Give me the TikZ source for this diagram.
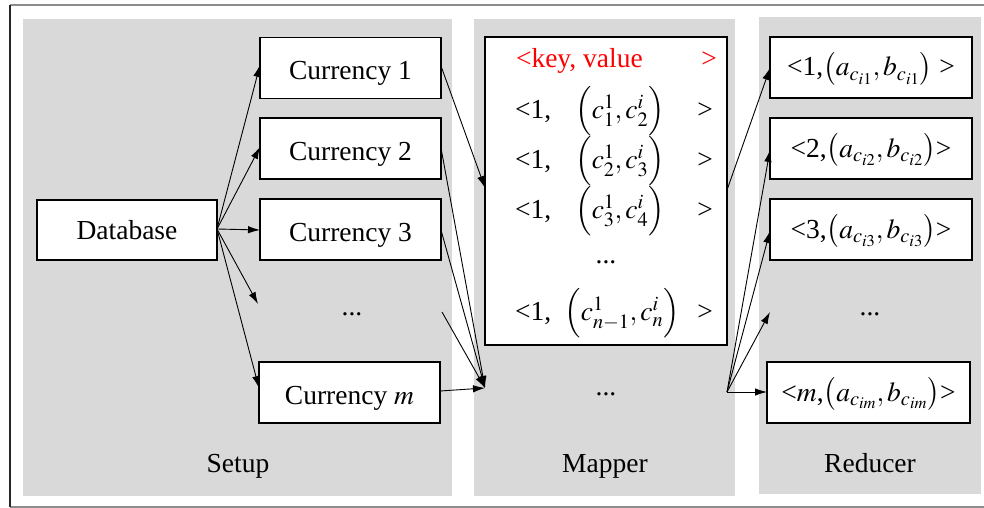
\documentclass[tikz,border=0pt]{standalone}
\usepackage{mathptmx}
\usepackage{fontspec}
\setmainfont{Liberation Serif}
\usetikzlibrary{arrows.meta}
\definecolor{panelgray}{RGB}{217,217,217}
\tikzset{
  panel/.style={fill=panelgray, draw=none},
  box/.style={draw=black, line width=1.1pt, fill=white, inner sep=0pt, outer sep=0pt},
  cbox/.style={box, minimum width=181pt, minimum height=61pt, text height=23pt, text depth=0pt},
  rbox/.style={box, minimum width=202pt, minimum height=61pt, text height=22pt, text depth=5pt},
  txt/.style={inner sep=0pt, outer sep=0pt},
  btxt/.style={inner sep=0pt, outer sep=0pt, anchor=base},
  arr/.style={line width=0.9pt, -{Latex[length=12pt,width=7.5pt]}},
  ln/.style={line width=0.9pt}
}
\begin{document}
\begin{tikzpicture}[x=1pt,y=-1pt,font=\fontsize{27.5}{33}\selectfont]
\useasboundingbox (0,0) rectangle (984,508);
% frame
\draw[gray!90, line width=1.4pt] (984,5) -- (10,5);
\draw[gray!90, line width=1.4pt] (10,507) -- (984,507);
\draw[black!85, line width=1.4pt] (10,5) -- (10,507);
% panels
\fill[panel] (23,19) rectangle (452,496);
\fill[panel] (474,19) rectangle (735,496);
\fill[panel] (759,17) rectangle (981,494);
% setup nodes
\node[box, minimum width=180pt, minimum height=60pt] (db) at (127,230) {Database};
\node[cbox] (c1) at (350.5,68) {Currency 1};
\node[cbox] (c2) at (350.5,148.5) {Currency 2};
\node[cbox] (c3) at (350.5,229.5) {Currency 3};
\node[btxt] (sdots) at (352,315) {...};
\node[cbox] (cm) at (349.5,392.5) {Currency $m$};
\node[btxt] at (238,472) {Setup};
% mapper
\node[box, minimum width=242pt, minimum height=308pt] (map) at (606,191) {};
\node[btxt, anchor=base west, text=red] (hk) at (516,68) {<key, value};
\node[btxt, text=red] (hg) at (709,68) {>};
\node[btxt, anchor=base west] (k1) at (515,118) {<1,};
\node[btxt] (v1) at (620,118) {$\Bigl(c_1^1,c_2^i\Bigr)$};
\node[btxt] (g1) at (705,118) {>};
\node[btxt, anchor=base west] (k2) at (515,168) {<1,};
\node[btxt] (v2) at (620,168) {$\Bigl(c_2^1,c_3^i\Bigr)$};
\node[btxt] (g2) at (705,168) {>};
\node[btxt, anchor=base west] (k3) at (515,218) {<1,};
\node[btxt] (v3) at (620,218) {$\Bigl(c_3^1,c_4^i\Bigr)$};
\node[btxt] (g3) at (705,218) {>};
\node[btxt] (mdots1) at (606,263) {...};
\node[btxt, anchor=base west] (k4) at (515,320) {<1,};
\node[btxt] (v4) at (622,320) {$\Bigl(c_{n-1}^1,c_n^i\Bigr)$};
\node[btxt] (g4) at (705,320) {>};
\node[btxt] (mdots2) at (606,395) {...};
\node[btxt] at (605,472) {Mapper};
% reducer
\node[rbox] (r1) at (871,67.5) {<1,$\bigl(a_{c_{i1}},b_{c_{i1}}\bigr)$ >};
\node[rbox] (r2) at (871,148.5) {<2,$\bigl(a_{c_{i2}},b_{c_{i2}}\bigr)$>};
\node[rbox] (r3) at (871,229.5) {<3,$\bigl(a_{c_{i3}},b_{c_{i3}}\bigr)$>};
\node[btxt] (rdots) at (870,315) {...};
\node[rbox, minimum width=203pt] (rm) at (868.5,392.5) {<$m$,$\bigl(a_{c_{im}},b_{c_{im}}\bigr)$>};
\node[btxt] at (870,472) {Reducer};
% connector coordinates
\coordinate (dbout) at (217,229);
\coordinate (sdIn) at (258,304);
\coordinate (sdOut) at (442,312);
\coordinate (mapIn) at (485,388);
\coordinate (mapOut1) at (727,190);
\coordinate (mapOut2) at (727,392);
\coordinate (rdIn) at (770,312);
% setup arrows
\draw[arr] (dbout) -- (c1.west |- 0,65);
\draw[arr] (dbout) -- (c2.west |- 0,147);
\draw[arr] (dbout) -- (c3.west |- 0,230);
\draw[arr] (dbout) -- (sdIn);
\draw[arr] (dbout) -- (cm.west |- 0,388);
% into mapper
\draw[arr] (c1.east |- 0,66) -- (map.west |- 0,188);
\draw[arr] (c2.east |- 0,148) -- (mapIn);
\draw[arr] (c3.east |- 0,230) -- (mapIn);
\draw[arr] (sdOut) -- (mapIn);
\draw[arr] (cm.east |- 0,391) -- (mapIn);
% out of mapper
\draw[arr] (mapOut1) -- (r1.west |- 0,68);
\draw[ln] (mapOut2) -- (map.east |- 0,392);
\draw[arr] (mapOut2) -- (r2.west |- 0,150);
\draw[arr] (mapOut2) -- (r3.west |- 0,231);
\draw[arr] (mapOut2) -- (rdIn);
\draw[arr] (mapOut2) -- (rm.west |- 0,392);
\end{tikzpicture}
\end{document}
